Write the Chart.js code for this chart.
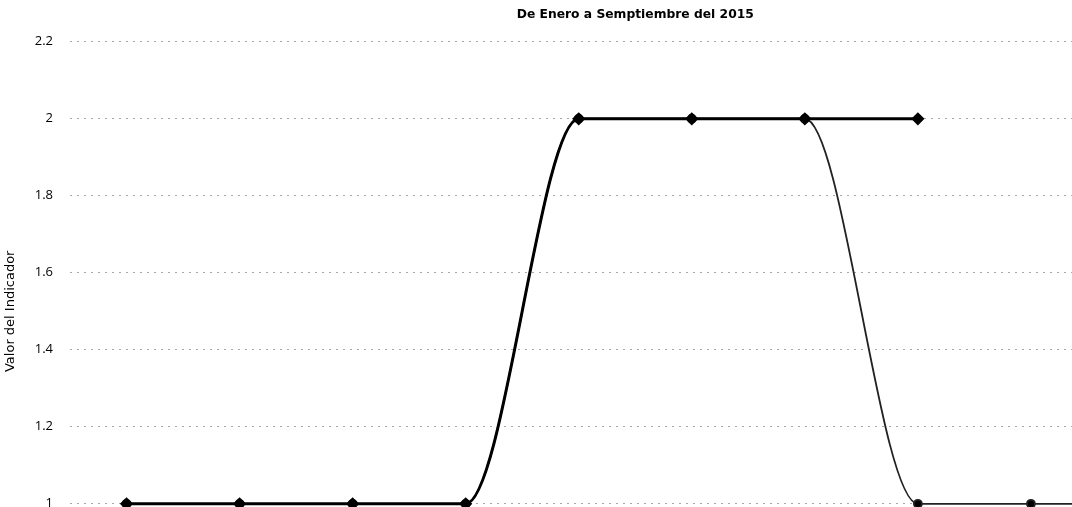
<!DOCTYPE html>
<html>
<head>
<meta charset="utf-8">
<script src="https://cdn.jsdelivr.net/npm/chart.js@4/dist/chart.umd.min.js"></script>
<style>
  html, body { margin: 0; padding: 0; background: #fff; overflow: hidden; width: 1072px; height: 507px; }
  #wrap { position: absolute; left: 0; top: 0; width: 1208px; height: 608px; }
</style>
</head>
<body>
<div id="wrap"><canvas id="c" width="1208" height="608"></canvas></div>
<script>
const titleText = 'De Enero a Semptiembre del 2015';
const yTitle = 'Valor del Indicador';
const categories = ['Enero', 'Febrero', 'Marzo', 'Abril', 'Mayo', 'Junio', 'Julio', 'Agosto', 'Septiembre', 'Octubre'];
const seriesA = [1, 1, 1, 1, 2, 2, 2, 2];
const seriesB = [1, 1, 1, 1, 2, 2, 2, 1, 1, 1];
const yMin = 0.8, yMax = 2.2, yStep = 0.2;

const font = "'Open Sans', 'DejaVu Sans', sans-serif";
const font2 = "'DejaVu Sans', sans-serif";

new Chart(document.getElementById('c'), {
  type: 'line',
  data: {
    labels: categories,
    datasets: [
      {
        label: 'Serie A',
        data: seriesA,
        borderColor: '#000',
        backgroundColor: '#000',
        borderWidth: 3,
        pointRadius: 4.5,
        pointStyle: 'rectRot',
        cubicInterpolationMode: 'monotone',
        clip: false,
        order: 1
      },
      {
        label: 'Serie B',
        data: seriesB,
        borderColor: '#222',
        backgroundColor: '#000',
        borderWidth: 1.8,
        pointRadius: 4,
        pointStyle: 'circle',
        cubicInterpolationMode: 'monotone',
        clip: false,
        order: 2
      }
    ]
  },
  options: {
    responsive: false,
    animation: false,
    layout: { padding: { left: 0, right: 2, top: 0, bottom: 0 } },
    plugins: {
      legend: { display: false },
      tooltip: { enabled: false },
      title: {
        display: true,
        text: titleText,
        fullSize: false,
        color: '#000',
        font: { family: font2, size: 12.3, weight: 'bold' },
        padding: { top: 7, bottom: 20 }
      }
    },
    scales: {
      x: {
        offset: true,
        grid: { display: false },
        border: { display: false },
        ticks: { color: '#000', font: { family: font, size: 11 } }
      },
      y: {
        min: yMin,
        max: yMax,
        afterFit: (s) => { s.width = 70; },
        ticks: {
          stepSize: yStep,
          color: '#000',
          padding: 17,
          font: { family: font, size: 13 },
          callback: (v) => Number(v.toFixed(1)).toString()
        },
        grid: { color: '#a8a8a8', lineWidth: 1, drawTicks: false },
        border: { display: false, dash: [2, 5] },
        title: {
          display: true,
          text: yTitle,
          color: '#000',
          font: { family: font2, size: 13 },
          padding: { top: 3, bottom: 0 }
        }
      }
    }
  }
});
</script>
</body>
</html>
